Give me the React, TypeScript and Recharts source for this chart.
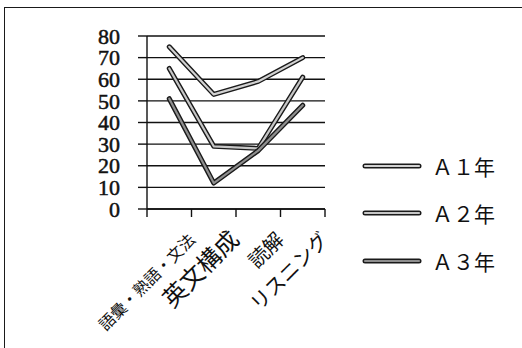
import React from "react";
import { LineChart, Line, XAxis, YAxis, CartesianGrid, Legend } from "recharts";

const categories: string[] = ["語彙・熟語・文法", "英文構成", "読解", "リスニング"];
const seriesNames: string[] = ["Ａ１年", "Ａ２年", "Ａ３年"];
const a1: number[] = [75, 53, 59, 70];
const a2: number[] = [65, 29, 28, 61];
const a3: number[] = [51, 12, 27, 48];
const yTicks: number[] = [0, 10, 20, 30, 40, 50, 60, 70, 80];

const data = categories.map((name, i) => ({ name, a1: a1[i], a2: a2[i], a3: a3[i] }));

const W = 522;
const H = 348;
const margin = { top: 36, right: 197, bottom: 99, left: 0 };
const Y_AXIS_W = 147;
const X_AXIS_H = 40;
const band = (W - margin.left - margin.right - Y_AXIS_W) / categories.length;

// inner fill of each doubled line, the dark outline is shared
const innerColors = ["#d2d2d2", "#c6c6c6", "#8e8e8e"];
const keys = ["a1", "a2", "a3"];
const labelSizes = [16, 24, 20, 20];

const serif = "'Liberation Serif', 'Times New Roman', 'DejaVu Serif', serif";
const jp = "'Noto Sans CJK JP', sans-serif";

const CategoryTick = (props: any) => {
  const { x, y, payload, index } = props;
  const left = x - band / 2;
  const ax = x + 27;
  const ay = y + 32;
  return (
    <g>
      <line x1={left} y1={y} x2={left} y2={y + 8} stroke="#111" strokeWidth={1.4} />
      {index === categories.length - 1 && (
        <line x1={x + band / 2} y1={y} x2={x + band / 2} y2={y + 8} stroke="#111" strokeWidth={1.4} />
      )}
      <text
        x={ax}
        y={ay}
        transform={`rotate(-45 ${ax} ${ay})`}
        textAnchor="end"
        style={{ fontFamily: jp, fontSize: labelSizes[index] }}
        fill="#111"
      >
        {payload.value}
      </text>
    </g>
  );
};

const ValueTick = (props: any) => {
  const { x, y, payload } = props;
  return (
    <text
      x={x}
      y={y}
      dy="0.35em"
      textAnchor="end"
      style={{ fontFamily: serif, fontSize: 22 }}
      fill="#111"
      stroke="#111"
      strokeWidth={0.5}
    >
      {payload.value}
    </text>
  );
};

const LegendBox = () => (
  <div style={{ fontFamily: jp, fontSize: 21, color: "#111" }}>
    {seriesNames.map((s, i) => (
      <div key={s} style={{ display: "flex", alignItems: "center", height: 47.5 }}>
        <svg width={60} height={10} style={{ marginRight: 10 }}>
          <line x1={3} y1={5} x2={57} y2={5} stroke="#1a1a1a" strokeWidth={5} strokeLinecap="round" />
          <line x1={3} y1={5} x2={57} y2={5} stroke={innerColors[i]} strokeWidth={2.2} strokeLinecap="round" />
        </svg>
        <span>{s}</span>
      </div>
    ))}
  </div>
);

export default function App() {
  return (
    <div style={{ position: "fixed", left: 0, top: 0, width: W, height: H, overflow: "hidden", background: "#fff" }}>
      <div
        style={{
          position: "absolute",
          left: 4,
          top: 7,
          width: 600,
          height: 400,
          border: "1.6px solid #1a1a1a",
        }}
      />
      <LineChart width={W} height={H} data={data} margin={margin} style={{ position: "absolute", left: 0, top: 0 }}>
        <CartesianGrid vertical={false} stroke="#111" strokeWidth={1.4} strokeOpacity={1} />
        <XAxis
          dataKey="name"
          scale="band"
          height={X_AXIS_H}
          interval={0}
          tickLine={false}
          tickSize={0}
          tickMargin={0}
          axisLine={{ stroke: "#111", strokeWidth: 1.4 }}
          tick={<CategoryTick />}
        />
        <YAxis
          width={Y_AXIS_W}
          domain={[0, 80]}
          ticks={yTicks}
          interval={0}
          tickSize={9}
          tickMargin={18}
          axisLine={{ stroke: "#111", strokeWidth: 1.4 }}
          tickLine={{ stroke: "#111", strokeWidth: 1.4 }}
          tick={<ValueTick />}
        />
        {keys.map((k, i) => [
          <Line
            key={k + "-edge"}
            dataKey={k}
            stroke="#1a1a1a"
            strokeWidth={5}
            strokeLinejoin="round"
            strokeLinecap="round"
            dot={false}
            activeDot={false}
            legendType="none"
            isAnimationActive={false}
          />,
          <Line
            key={k}
            dataKey={k}
            name={seriesNames[i]}
            stroke={innerColors[i]}
            strokeWidth={2.2}
            strokeLinejoin="round"
            strokeLinecap="round"
            dot={false}
            activeDot={false}
            isAnimationActive={false}
          />,
        ])}
        <Legend
          layout="horizontal"
          verticalAlign="middle"
          content={<LegendBox />}
          wrapperStyle={{ left: 362, top: 142, width: 160 }}
        />
      </LineChart>
    </div>
  );
}
